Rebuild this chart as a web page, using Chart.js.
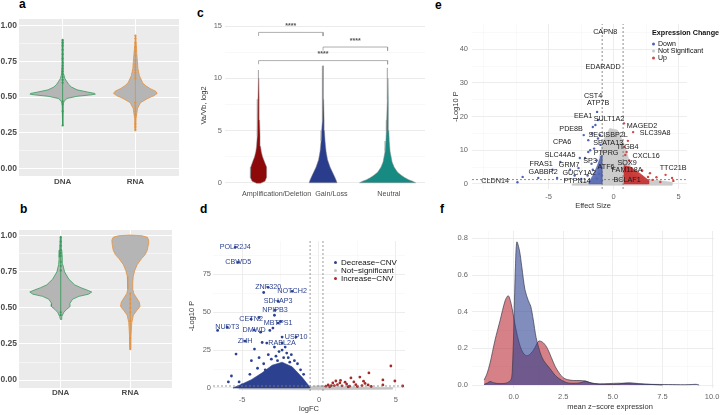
<!DOCTYPE html>
<html>
<head>
<meta charset="utf-8">
<title>CNV / expression figure</title>
<script src="https://cdn.jsdelivr.net/npm/chart.js@4.4.1/dist/chart.umd.min.js"></script>
<style>
  html, body { margin: 0; padding: 0; background: #fff; }
  body { position: relative; width: 721px; height: 415px; overflow: hidden;
         font-family: "Liberation Sans", Arial, sans-serif; }
  .box { position: absolute; }
  .tag { position: absolute; font-weight: bold; font-size: 12px; line-height: 12px; color: #000; }
  .txt { position: absolute; white-space: nowrap; line-height: 1; transform: translate(-50%, -50%); color: #333; font-size: 7.5px; }
  .leg { position: absolute; white-space: nowrap; line-height: 1; transform: translateY(-50%); color: #111; }
  .leg i { display: inline-block; width: 3px; height: 3px; border-radius: 50%; vertical-align: middle; margin-right: 4px; }
</style>
</head>
<body>
<div class="tag" style="left:19px;top:-2px">a</div>
<div class="tag" style="left:20px;top:203px">b</div>
<div class="tag" style="left:197px;top:7px">c</div>
<div class="tag" style="left:200px;top:203px">d</div>
<div class="tag" style="left:435px;top:-1px">e</div>
<div class="tag" style="left:440px;top:203px">f</div>

<div class="box" style="left:0;top:0;width:185px;height:200px"><canvas id="chartA"></canvas></div>
<div class="box" style="left:0;top:210px;width:185px;height:205px"><canvas id="chartB"></canvas></div>
<div class="box" style="left:195px;top:0;width:235px;height:205px"><canvas id="chartC"></canvas></div>
<div class="box" style="left:185px;top:225px;width:225px;height:190px"><canvas id="chartD"></canvas></div>
<div class="box" style="left:440px;top:0;width:281px;height:215px"><canvas id="chartE"></canvas></div>
<div class="box" style="left:440px;top:215px;width:281px;height:200px"><canvas id="chartF"></canvas></div>

<!-- legends and the two off-centre axis titles -->
<div class="leg" style="left:334px;top:263px;font-size:8px"><i style="background:#2c4291"></i>Decrease−CNV</div>
<div class="leg" style="left:334px;top:271px;font-size:8px"><i style="background:#c4c4c4"></i>Not−significant</div>
<div class="leg" style="left:334px;top:279px;font-size:8px"><i style="background:#a52a2a"></i>Increase−CNV</div>

<div class="leg" style="left:652px;top:33px;font-size:7.2px;font-weight:bold">Expression Change</div>
<div class="leg" style="left:652px;top:43px;font-size:7px"><i style="background:#4f63b4;margin-right:3px"></i>Down</div>
<div class="leg" style="left:652px;top:50px;font-size:7px"><i style="background:#c8c8c8;margin-right:3px"></i>Not Significant</div>
<div class="leg" style="left:652px;top:57px;font-size:7px"><i style="background:#d04848;margin-right:3px"></i>Up</div>

<div class="txt" style="left:593px;top:206px">Effect Size</div>
<div class="txt" style="left:610px;top:407px">mean z−score expression</div>

<script>
// ---------------- data ----------------
// a / b : allele-fraction violins, DNA vs RNA
const abCats = ['DNA', 'RNA'];
const abTicks = [0, 0.25, 0.5, 0.75, 1];
const abMinor = [0.125, 0.375, 0.625, 0.875];

const aDnaY = [0.30, 0.45, 0.47, 0.49, 0.505, 0.515, 0.52, 0.525, 0.535, 0.55, 0.57, 0.59, 0.61, 0.63, 0.66, 0.75, 0.90];
const aDnaW = [0.004, 0.007, 0.02, 0.06, 0.2, 0.39, 0.45, 0.44, 0.34, 0.2, 0.12, 0.08, 0.055, 0.03, 0.015, 0.007, 0.004];
const aRnaY = [0.26, 0.35, 0.42, 0.46, 0.49, 0.51, 0.525, 0.54, 0.56, 0.58, 0.60, 0.65, 0.70, 0.80, 0.93];
const aRnaW = [0.004, 0.01, 0.03, 0.07, 0.17, 0.26, 0.3, 0.28, 0.2, 0.14, 0.1, 0.055, 0.035, 0.02, 0.005];
const aDnaPts = [0.30, 0.40, 0.45, 0.47, 0.60, 0.62, 0.64, 0.66, 0.68, 0.70, 0.72, 0.74, 0.77, 0.80, 0.83, 0.86, 0.88, 0.90];
const aRnaPts = [0.27, 0.29, 0.31, 0.38, 0.40, 0.42, 0.44, 0.46, 0.63, 0.65, 0.67, 0.69, 0.71, 0.73, 0.76, 0.79, 0.82, 0.85, 0.88, 0.91, 0.93];

const bDnaY = [0.42, 0.44, 0.47, 0.49, 0.51, 0.53, 0.56, 0.58, 0.595, 0.61, 0.62, 0.64, 0.66, 0.70, 0.75, 0.80, 0.85, 0.90, 0.99];
const bDnaW = [0.004, 0.015, 0.045, 0.085, 0.135, 0.13, 0.17, 0.26, 0.4, 0.445, 0.4, 0.29, 0.2, 0.115, 0.055, 0.03, 0.022, 0.015, 0.007];
const bRnaY = [0.21, 0.30, 0.40, 0.45, 0.48, 0.51, 0.54, 0.57, 0.60, 0.63, 0.68, 0.72, 0.76, 0.80, 0.84, 0.87, 0.90, 0.94, 0.97, 0.99, 1.0, 1.005];
const bRnaW = [0.004, 0.01, 0.022, 0.045, 0.09, 0.14, 0.13, 0.09, 0.05, 0.036, 0.036, 0.043, 0.065, 0.1, 0.16, 0.215, 0.245, 0.26, 0.265, 0.245, 0.17, 0.0];
const bDnaPts = [0.45, 0.47, 0.76, 0.79, 0.82, 0.86, 0.88, 0.90, 0.93, 0.96, 0.99];
const bRnaPts = [0.29, 0.41, 0.47, 0.50, 0.53, 0.56, 0.60];

// c : Va/Vb (log2) by CNV class
const cCats = ['Amplification/Deletion', 'Gain/Loss', 'Neutral'];
const cLabelAt = [1.28, 2.13, 3.02];
const cTicks = [0, 5, 10, 15];
const cMinor = [2.5, 7.5, 12.5];
const cAmpY = [-0.05, 0.15, 0.5, 1.0, 1.5, 2.0, 2.5, 3.0, 3.5, 4.5, 6, 8, 10, 10.8];
const cAmpW = [0.03, 0.1, 0.124, 0.129, 0.121, 0.093, 0.062, 0.042, 0.031, 0.023, 0.016, 0.009, 0.006, 0.003];
const cGainY = [0, 0.3, 0.6, 1.0, 1.5, 2.2, 3, 4, 5, 6, 8, 10, 11.2];
const cGainW = [0.217, 0.2, 0.178, 0.147, 0.109, 0.07, 0.047, 0.031, 0.022, 0.016, 0.009, 0.006, 0.002];
const cNeutY = [0, 0.15, 0.3, 0.5, 0.7, 1.0, 1.5, 2, 3, 4, 5, 6, 8, 10, 11];
const cNeutW = [0.434, 0.388, 0.326, 0.264, 0.217, 0.155, 0.101, 0.07, 0.039, 0.026, 0.019, 0.014, 0.009, 0.006, 0.002];
const cBracketFrom = [1, 2, 1];
const cBracketTo = [2, 3, 3];
const cBracketY = [14.4, 13.0, 11.7];
const cBracketText = ['****', '****', '****'];

// d : CNV volcano (logFC vs -log10 P)
const dTicksX = [-5, 0, 5];
const dTicksY = [0, 25, 50, 75];
const dCutFC = [-0.58, 0.26];
const dCutP = 1.3;
const dGenes = ['POLR2J4', 'CBWD5', 'ZNF320', 'NOTCH2', 'SDHAP3', 'NPIPB3', 'CETN2', 'MBTPS1', 'NUDT3', 'DMWD', 'ZHH', 'USP10', 'RABL2A'];
const dGeneFC = [-5.45, -5.26, -3.31, -1.75, -2.66, -2.86, -4.42, -2.66, -5.97, -4.22, -4.81, -1.49, -2.40];
const dGeneP = [92.8, 82.9, 66.4, 63.8, 57.2, 51.3, 45.4, 42.8, 40.1, 38.2, 30.9, 33.6, 29.6];
const dDownFC = [-6.6, -5.7, -5.4, -4.2, -3.8, -3.4, -3.2, -3.0, -3.6, -2.4, -2.4, -2.1, -4.7, -5.0, -4.4, -3.9, -3.6, -3.3, -3.1, -2.9, -2.8, -2.6, -2.2, -2.0, -1.8, -1.6, -1.4, -1.2, -1.0, -4.0, -4.5, -5.2, -3.5, -2.7, -2.3, -1.9, -3.7, -2.5, -3.9, -2.9, -5.9];
const dDownP = [38, 7.9, 22.4, 25.7, 36.8, 29.6, 38, 39.5, 63, 33.6, 25, 23, 2.6, 2, 18, 20, 16, 22, 19, 27, 21, 24, 27, 20, 22, 18, 16, 12, 9, 13, 9, 4, 12, 18, 20, 17, 30, 44, 46.5, 48, 4];
const dDenseFC = [-5.6, -5.0, -4.4, -3.7, -3.05, -2.4, -1.75, -1.1, -0.7, -0.6, -0.6, -5.6];
const dDenseP = [0, 2.6, 5.5, 10, 15, 17, 14, 7, 2, 0.5, 0, 0];
const dNsFC = [-5.2, -0.6, 0.3, 4.8, 4.8, 0.6, 0, -0.6, -5.2];
const dNsP = [-0.8, -1.2, -1.2, -0.8, 0.3, 1.0, 1.6, 0.8, 0.2];
const dUpFC = [4.68, 4.94, 4.16, 4.16, 3.25, 2.66, 2.08, 2.27, 1.36, 0.9, 0.6, 5.45, 3.2, 1.8, 0.45, 0.7, 1.0, 1.2, 1.5, 1.7, 2.0, 2.4, 2.5, 2.8, 3.0, 3.4, 2.9, 1.1, 0.8, 1.9, 1.4];
const dUpP = [14.5, 4.6, 5.3, 2, 9.9, 7.2, 6.6, 4, 3.3, 3.3, 2, 1.3, 2, 2.6, 1.2, 0.8, 1.6, 2.2, 1.4, 3.8, 1.2, 2.2, 0.9, 1.6, 3.0, 1.0, 4.5, 4.6, 1.6, 0.8, 5.0];

// e : expression volcano (effect size vs -log10 P)
const eTicksX = [-5, 0, 5];
const eTicksY = [0, 10, 20, 30, 40];
const eCutX = [-0.88, 0.73];
const eCutP = 1.3;
const eGenes = ['CAPN8', 'EDARADD', 'CST4', 'ATP7B', 'EEA1', 'SULT1A2', 'MAGED2', 'SLC39A8', 'PDE8B', 'SECISBP2L', 'CPA6', 'SPATA13', 'ITGB4', 'PTPRG', 'CXCL16', 'SLC44A5', 'SP3', 'FRAS1', 'GRM7', 'SOX9', 'ATF6', 'TTC21B', 'GABBR2', 'FAM118A', 'GUCY1A2', 'CLDN14', 'PTPN14', 'BCLAF1'];
const eGeneX = [-0.65, -0.81, -1.58, -1.19, -2.35, -0.35, 2.19, 3.19, -3.27, -0.42, -3.96, -0.42, 1.12, -0.58, 2.5, -4.12, -1.81, -5.58, -3.42, 1.04, -0.58, 4.58, -5.42, 1.04, -2.65, -9.12, -2.81, 1.04];
const eGeneY = [45.1, 34.7, 26.1, 24.0, 20.2, 19.3, 17.2, 15.1, 16.3, 14.5, 12.5, 12.2, 11.0, 9.2, 8.3, 8.6, 6.8, 5.9, 5.6, 6.2, 5.0, 4.7, 3.6, 4.2, 3.3, 0.9, 0.9, 1.2];
const eDownX = [-7.0, -7.4, -5.8, -4.35, -3.35, -2.6, -1.95, -1.6, -1.27, -2.3, -4.7, -4.1, -2.7, -2.2, -1.95, -1.8, -1.65, -1.4, -1.6, -1.3, -1.0, -1.2, -1.1, -1.3, -1.0, -0.95, -1.5, -1.2, -2.0, -1.7, -2.5, -3.0, -0.9, -1.05, -0.9];
const eDownY = [2.1, 0.5, 1.8, 1.8, 4.2, 7.7, 9.5, 16.9, 21.4, 14.5, 4.2, 6.5, 4.7, 7.7, 13, 10, 15, 17.5, 4.2, 7, 11.6, 19, 3, 1.5, 5, 8, 10.5, 13.5, 2.5, 6, 1.5, 2.5, 1, 14.5, 2.5];
const eDenseDownX = [-1.9, -1.6, -1.3, -1.05, -0.9, -0.9, -1.9];
const eDenseDownY = [0.5, 2.5, 5, 7.5, 8.5, 0, 0];
const eNsX = [-3.2, -1.8, -1.25, -1.1, -0.8, -0.3, 0.3, 0.8, 1.2, 1.4, 2.2, 3.5, 4.5, 4.5, -3.2];
const eNsY = [0, 1.0, 3, 8, 13, 16.5, 16, 12, 7, 3, 1.5, 1.0, 0.5, -0.4, -0.4];
const eUpX = [0.8, 1.5, 0.9, 0.8, 2.65, 3.0, 3.6, 4.0, 4.5, 4.6, 2.0, 1.2, 1.0, 1.4, 2.2, 1.1, 3.3, 2.8];
const eUpY = [18, 15.4, 8.6, 11, 2.1, 1.2, 0.6, 2.7, 1.8, 0.9, 2.7, 7, 9.5, 4.5, 4, 12.8, 2, 3.2];
const eDenseUpX = [0.8, 0.8, 1.3, 1.9, 2.4, 2.7, 2.7, 0.8];
const eDenseUpY = [0, 5.5, 5, 3.5, 2, 1, 0, 0];

// f : density of mean z-score expression, two groups
const fTicksX = [0, 2.5, 5, 7.5, 10];
const fTicksY = [0, 0.2, 0.4, 0.6, 0.8];
const fRedX = [-1.49, -1.35, -1.19, -0.94, -0.68, -0.43, -0.27, -0.12, 0.05, 0.25, 0.45, 0.65, 0.85, 1.05, 1.27, 1.5, 1.7, 1.9, 2.1, 2.3, 2.5, 2.7, 3.0, 3.3, 3.6, 3.9, 4.3, 4.8, 5.3, 5.8, 6.3, 7.0, 7.5];
const fRedY = [0.027, 0.06, 0.12, 0.245, 0.354, 0.46, 0.487, 0.44, 0.34, 0.24, 0.18, 0.16, 0.17, 0.2, 0.24, 0.23, 0.2, 0.15, 0.1, 0.065, 0.04, 0.03, 0.025, 0.025, 0.022, 0.012, 0.006, 0.008, 0.01, 0.008, 0.005, 0.003, 0.0];
const fBlueX = [-1.49, -1.3, -1.19, -1.0, -0.7, -0.4, -0.2, -0.1, -0.06, 0.0, 0.04, 0.09, 0.16, 0.29, 0.41, 0.57, 0.74, 0.86, 0.99, 1.13, 1.3, 1.5, 1.83, 2.17, 2.68, 3.2, 3.45, 3.6, 3.8, 4.0, 4.6, 5.2, 5.6, 5.9, 6.3, 6.9, 7.8, 8.6, 9.0, 9.2, 9.35];
const fBlueY = [0.004, 0.012, 0.02, 0.012, 0.008, 0.01, 0.02, 0.04, 0.1, 0.28, 0.46, 0.645, 0.78, 0.735, 0.645, 0.52, 0.46, 0.43, 0.355, 0.26, 0.19, 0.136, 0.09, 0.045, 0.013, 0.01, 0.015, 0.022, 0.015, 0.008, 0.004, 0.004, 0.011, 0.012, 0.008, 0.004, 0.003, 0.002, 0.003, 0.004, 0.0];

// ---------------- helpers ----------------
Chart.defaults.font.family = '"Liberation Sans", Arial, sans-serif';
Chart.defaults.animation = false;
Chart.defaults.responsive = true;
Chart.defaults.maintainAspectRatio = false;
Chart.defaults.plugins.legend.display = false;
Chart.defaults.plugins.tooltip.enabled = false;
Chart.defaults.events = [];

const pts = (xs, ys) => xs.map((x, i) => ({ x, y: ys[i] }));
function closed(xs, ys) { const p = pts(xs, ys); p.push(p[0]); return p; }

// right half going up, left half coming back down
function violinPoly(center, ys, ws) {
    const right = ys.map((y, i) => ({ x: center + ws[i], y }));
    const left = ys.map((y, i) => ({ x: center - ws[i], y })).reverse();
    const p = right.concat(left);
    p.push(p[0]);
    return p;
}

// linear axis with fixed tick list, minor grid lines and a fixed box size
function axis(o) {
    const major = o.major, minor = o.minor || [];
    const all = major.concat(minor).sort((p, q) => p - q);
    const isMajor = (v) => major.some((m) => Math.abs(m - v) < 1e-9);
    return {
        type: 'linear',
        min: o.min,
        max: o.max,
        afterBuildTicks: (s) => { s.ticks = all.map((v) => ({ value: v })); },
        afterFit: (s) => {
            if (s.isHorizontal()) s.height = o.size; else s.width = o.size;
            s.paddingLeft = s.paddingRight = s.paddingTop = s.paddingBottom = 0;
        },
        border: { display: false },
        grid: {
            display: o.grid !== false,
            drawTicks: false,
            color: (c) => (c.tick && isMajor(c.tick.value) ? o.gridMajor : o.gridMinor),
            lineWidth: (c) => (c.tick && isMajor(c.tick.value) ? (o.majorWidth || 0.8) : (o.minorWidth || 0.5)),
        },
        ticks: {
            autoSkip: false,
            maxRotation: 0,
            padding: o.pad,
            color: o.tickColor || '#666',
            font: o.tickFont || { size: 7.5 },
            callback: (v) => (isMajor(v) ? o.fmt(v) : ''),
        },
        title: o.title
            ? { display: true, text: o.title, color: '#333', font: { size: 7.5 }, padding: o.titlePad }
            : { display: false },
    };
}

function panelBg(color) {
    return {
        id: 'panelBg',
        beforeDraw(chart) {
            const { ctx, chartArea: a } = chart;
            ctx.save();
            ctx.fillStyle = color;
            ctx.fillRect(a.left, a.top, a.width, a.height);
            ctx.restore();
        },
    };
}

function textMarks(xs, ys, texts, font, color) {
    return {
        id: 'textMarks',
        afterDatasetsDraw(chart) {
            const { ctx, scales } = chart;
            ctx.save();
            ctx.font = font;
            ctx.fillStyle = color;
            ctx.textAlign = 'center';
            ctx.textBaseline = 'middle';
            texts.forEach((t, i) => ctx.fillText(t, scales.x.getPixelForValue(xs[i]), scales.y.getPixelForValue(ys[i])));
            ctx.restore();
        },
    };
}

const line = (data, color, width, dash, order) => ({
    data, showLine: true, borderColor: color, borderWidth: width, borderDash: dash || [],
    pointRadius: 0, fill: false, order,
});
const dots = (data, color, r, order) => ({
    data, pointRadius: r, pointBackgroundColor: color, pointBorderWidth: 0, order,
});
const poly = (data, color, order) => ({
    data, showLine: true, fill: 'shape', backgroundColor: color, borderColor: color,
    borderWidth: 0.6, pointRadius: 0, order,
});

// ---------------- a / b ----------------
const GREEN = '#3a9a5e';
const ORANGE = '#e8903a';

function violinPanel(id, padding, yRange, xPad, groups) {
    const datasets = [];
    groups.forEach((g) => {
        datasets.push({
            data: violinPoly(g.at, g.ys, g.ws), showLine: true, fill: 'shape',
            backgroundColor: '#b5b5b5', borderColor: g.color, borderWidth: 0.8, pointRadius: 0, order: 4,
        });
        datasets.push(line([{ x: g.at, y: g.pts[0] }, { x: g.at, y: g.pts[g.pts.length - 1] }], g.color, 0.9, null, 3));
        datasets.push(dots(g.pts.map((y) => ({ x: g.at, y })), g.color, 1.1, 2));
    });
    new Chart(document.getElementById(id), {
        type: 'scatter',
        data: { datasets },
        options: {
            layout: { padding },
            scales: {
                x: axis({
                    min: 0.4, max: 2.6, major: [1, 2], fmt: (v) => abCats[v - 1], size: xPad.size, pad: xPad.pad,
                    gridMajor: '#ffffff', majorWidth: 1, tickColor: '#4d4d4d', tickFont: { size: 8, weight: 'bold' },
                }),
                y: axis({
                    min: yRange[0], max: yRange[1], major: abTicks, minor: abMinor, fmt: (v) => v.toFixed(2),
                    size: 19, pad: 2, gridMajor: '#ffffff', gridMinor: '#ffffff', majorWidth: 1, minorWidth: 0.5,
                    tickColor: '#4d4d4d', tickFont: { size: 8.5, weight: 'bold' },
                }),
            },
        },
        plugins: [panelBg('#ebebeb')],
    });
}

violinPanel('chartA', { left: 0, top: 19, right: 6, bottom: 0 }, [-0.054, 1.047], { size: 24, pad: 1 }, [
    { at: 1, ys: aDnaY, ws: aDnaW, pts: aDnaPts, color: GREEN },
    { at: 2, ys: aRnaY, ws: aRnaW, pts: aRnaPts, color: ORANGE },
]);
violinPanel('chartB', { left: 0, top: 20, right: 13, bottom: 0 }, [-0.055, 1.04], { size: 27, pad: 0 }, [
    { at: 1, ys: bDnaY, ws: bDnaW, pts: bDnaPts, color: GREEN },
    { at: 2, ys: bRnaY, ws: bRnaW, pts: bRnaPts, color: ORANGE },
]);

// ---------------- c ----------------
(function () {
    const datasets = [
        poly(violinPoly(1, cAmpY, cAmpW), '#8e0a0a', 3),
        poly(violinPoly(2, cGainY, cGainW), '#2a3c8c', 3),
        poly(violinPoly(3, cNeutY, cNeutW), '#178a82', 3),
    ];
    datasets.forEach((d) => { d.borderColor = '#8a8a8a'; d.borderWidth = 0.5; });
    cBracketY.forEach((y, i) => {
        datasets.push(line([
            { x: cBracketFrom[i], y: y - 0.35 }, { x: cBracketFrom[i], y },
            { x: cBracketTo[i], y }, { x: cBracketTo[i], y: y - 0.35 },
        ], '#9a9a9a', 0.8, null, 1));
    });
    new Chart(document.getElementById('chartC'), {
        type: 'scatter',
        data: { datasets },
        options: {
            layout: { padding: { left: 0, top: 23, right: 5, bottom: 0 } },
            scales: {
                x: axis({
                    min: 0.48, max: 3.58, major: cLabelAt, fmt: (v) => cCats[cLabelAt.indexOf(v)],
                    size: 17, pad: 2, grid: false, tickColor: '#4d4d4d', tickFont: { size: 7.2 },
                }),
                y: axis({
                    min: -0.5, max: 15.3, major: cTicks, minor: cMinor, fmt: (v) => String(v), size: 30, pad: 3,
                    gridMajor: '#e6e6e6', gridMinor: '#f1f1f1', tickColor: '#666', title: 'Va/Vb, log2',
                    titlePad: { top: 4, bottom: 0 },
                }),
            },
        },
        plugins: [textMarks(
            cBracketFrom.map((f, i) => (f + cBracketTo[i]) / 2), cBracketY.map((y) => y + 0.6), cBracketText,
            'bold 7px "Liberation Sans", Arial, sans-serif', '#555',
        )],
    });
})();

// ---------------- d ----------------
(function () {
    const datasets = [
        line([{ x: dCutFC[0], y: -2 }, { x: dCutFC[0], y: 97 }], '#808080', 0.8, [2, 2], 0),
        line([{ x: dCutFC[1], y: -2 }, { x: dCutFC[1], y: 97 }], '#808080', 0.8, [2, 2], 0),
        line([{ x: -6.9, y: dCutP }, { x: 5.6, y: dCutP }], '#808080', 0.8, [2, 2], 0),
        dots(pts(dUpFC, dUpP), '#a52a2a', 1.4, 1),
        dots(pts(dGeneFC, dGeneP), '#2c4291', 1.4, 1),
        dots(pts(dDownFC, dDownP), '#2c4291', 1.4, 1),
        poly(closed(dDenseFC, dDenseP), '#2c4291', 2),
        poly(closed(dNsFC, dNsP), '#c4c4c4', 3),
    ];
    new Chart(document.getElementById('chartD'), {
        type: 'scatter',
        data: { datasets },
        options: {
            layout: { padding: { left: 0, top: 16, right: 5, bottom: 0 } },
            scales: {
                x: axis({
                    min: -6.9, max: 5.6, major: dTicksX, minor: [-2.5, 2.5], fmt: (v) => String(v), size: 24, pad: 4,
                    gridMajor: '#e8e8e8', gridMinor: '#f3f3f3', title: 'logFC', titlePad: { top: 0, bottom: 2 },
                }),
                y: axis({
                    min: -2, max: 97, major: dTicksY, minor: [12.5, 37.5, 62.5, 87.5], fmt: (v) => String(v), size: 28, pad: 2,
                    gridMajor: '#e8e8e8', gridMinor: '#f3f3f3', title: '-Log10 P', titlePad: { top: 2, bottom: 0 },
                }),
            },
        },
        plugins: [textMarks(dGeneFC, dGeneP, dGenes, '7.2px "Liberation Sans", Arial, sans-serif', '#2c4291')],
    });
})();

// ---------------- e ----------------
(function () {
    const datasets = [
        line([{ x: eCutX[0], y: -1.5 }, { x: eCutX[0], y: 47.5 }], '#707070', 0.8, [2, 2], 0),
        line([{ x: eCutX[1], y: -1.5 }, { x: eCutX[1], y: 47.5 }], '#707070', 0.8, [2, 2], 0),
        line([{ x: -10.9, y: eCutP }, { x: 5.65, y: eCutP }], '#707070', 0.8, [2, 2], 0),
        dots(pts(eUpX, eUpY), '#d04848', 1.2, 1),
        dots(pts(eDownX, eDownY), '#4f63b4', 1.2, 1),
        poly(closed(eDenseUpX, eDenseUpY), 'rgba(198,42,42,0.9)', 2),
        poly(closed(eDenseDownX, eDenseDownY), 'rgba(70,90,175,0.8)', 2),
        poly(closed(eNsX, eNsY), '#cccccc', 3),
    ];
    new Chart(document.getElementById('chartE'), {
        type: 'scatter',
        data: { datasets },
        options: {
            layout: { padding: { left: 0, top: 24, right: 34, bottom: 0 } },
            scales: {
                x: axis({
                    min: -10.9, max: 5.65, major: eTicksX, minor: [-10, -7.5, -2.5, 2.5], fmt: (v) => String(v), size: 26, pad: 3,
                    gridMajor: '#e8e8e8', gridMinor: '#f3f3f3',
                }),
                y: axis({
                    min: -1.5, max: 47.5, major: eTicksY, minor: [5, 15, 25, 35, 45], fmt: (v) => String(v), size: 32, pad: 4,
                    gridMajor: '#e8e8e8', gridMinor: '#f3f3f3', title: '-Log10 P', titlePad: { top: 11.5, bottom: 0 },
                }),
            },
        },
        plugins: [textMarks(eGeneX, eGeneY, eGenes, '7.2px "Liberation Sans", Arial, sans-serif', '#1a1a1a')],
    });
})();

// ---------------- f ----------------
(function () {
    const area = (xs, ys, fillColor, order) => ({
        data: pts(xs, ys), showLine: true, fill: 'origin', backgroundColor: fillColor,
        borderColor: '#3a3a4a', borderWidth: 0.7, pointRadius: 0, tension: 0.3, order,
    });
    new Chart(document.getElementById('chartF'), {
        type: 'scatter',
        data: {
            datasets: [
                area(fBlueX, fBlueY, 'rgba(45,65,145,0.6)', 0),
                area(fRedX, fRedY, 'rgba(185,45,55,0.6)', 1),
            ],
        },
        options: {
            layout: { padding: { left: 0, top: 16, right: 7, bottom: 0 } },
            scales: {
                x: axis({
                    min: -2.1, max: 10.1, major: fTicksX, minor: [-1.25, 1.25, 3.75, 6.25, 8.75], fmt: (v) => v.toFixed(1),
                    size: 27, pad: 4, gridMajor: '#e8e8e8', gridMinor: '#f3f3f3',
                }),
                y: axis({
                    min: -0.016, max: 0.84, major: fTicksY, minor: [0.1, 0.3, 0.5, 0.7], fmt: (v) => v.toFixed(1),
                    size: 32, pad: 4, gridMajor: '#e8e8e8', gridMinor: '#f3f3f3',
                }),
            },
        },
    });
})();
</script>
</body>
</html>
